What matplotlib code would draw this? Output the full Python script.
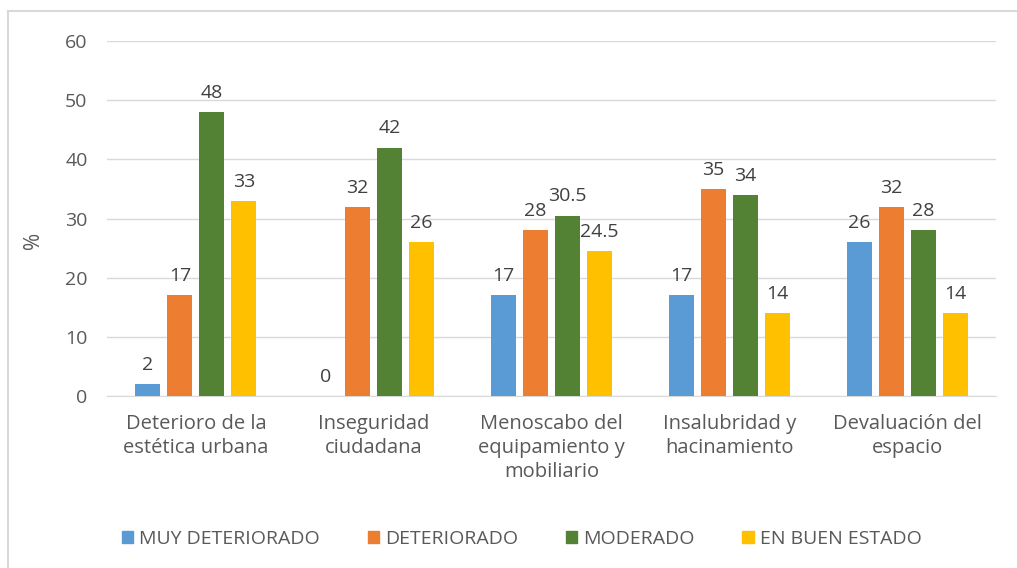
#!/usr/bin/env python3

import matplotlib
matplotlib.use("Agg")
import matplotlib.pyplot as plt
from matplotlib.lines import Line2D
import numpy as np

categories = ["Deterioro de la\nestética urbana", "Inseguridad\nciudadana",
              "Menoscabo del\nequipamiento y\nmobiliario", "Insalubridad y\nhacinamiento",
              "Devaluación del\nespacio"]
series = ["MUY DETERIORADO", "DETERIORADO", "MODERADO", "EN BUEN ESTADO"]
muy_deteriorado = [2, 0, 17, 17, 26]
deteriorado = [17, 32, 28, 35, 32]
moderado = [48, 42, 30.5, 34, 28]
buen_estado = [33, 26, 24.5, 14, 14]
values = [muy_deteriorado, deteriorado, moderado, buen_estado]
colors = ["#5B9BD5", "#ED7D31", "#548235", "#FFC000"]

plt.rcParams["font.family"] = ["Open Sans", "DejaVu Sans"]
txt = "#595959"

fig = plt.figure(figsize=(10.17, 5.68), dpi=100)
ax = fig.add_axes([107/1017, 1 - 396/568, (996-107)/1017, (396-41)/568])

x = np.arange(len(categories))
w = 0.14
step = 0.18
for i, (name, vals) in enumerate(zip(series, values)):
    pos = x + (i - 1.5) * step
    ax.bar(pos, vals, w, color=colors[i], label=name, zorder=3)
    for p, v in zip(pos, vals):
        ax.text(p, v + 1.7, f"{v:g}", ha="center", va="bottom", fontsize=14, color="#404040")

ax.set_xlim(-0.5, len(categories) - 0.5)
ax.set_ylim(0, 60)
ax.set_yticks(range(0, 61, 10))
ax.grid(axis="y", color="#D9D9D9", linewidth=1, zorder=0)
for s in ["top", "right", "left"]:
    ax.spines[s].set_visible(False)
ax.spines["bottom"].set_color("#D9D9D9")
ax.tick_params(axis="both", length=0, colors=txt, labelsize=14)
ax.tick_params(axis="y", pad=14)
ax.tick_params(axis="x", pad=13, labelsize=14.5)
ax.set_xticks(x)
ax.set_xticklabels(categories, linespacing=1.25)
fig.text(33/1017, 1 - 240/568, "%", rotation=90, ha="center", va="center",
         color=txt, fontsize=15)

handles = [plt.Rectangle((0, 0), 1, 1, color=c) for c in colors]
fig.legend(handles, series, loc="center", bbox_to_anchor=(0.513, 1 - 539/568), ncol=4,
           frameon=False, handlelength=0.6, handleheight=0.6,
           handletextpad=0.3, columnspacing=2.45, labelcolor=txt, fontsize=14)

# outer chart border (left and top edges)
fig.add_artist(Line2D([8/1017, 8/1017], [0, 1 - 11/568], transform=fig.transFigure,
                      color="#D9D9D9", linewidth=1.5))
fig.add_artist(Line2D([8/1017, 1], [1 - 11/568, 1 - 11/568], transform=fig.transFigure,
                      color="#D9D9D9", linewidth=1.5))

plt.savefig("out.png", dpi=100)
plt.close()
